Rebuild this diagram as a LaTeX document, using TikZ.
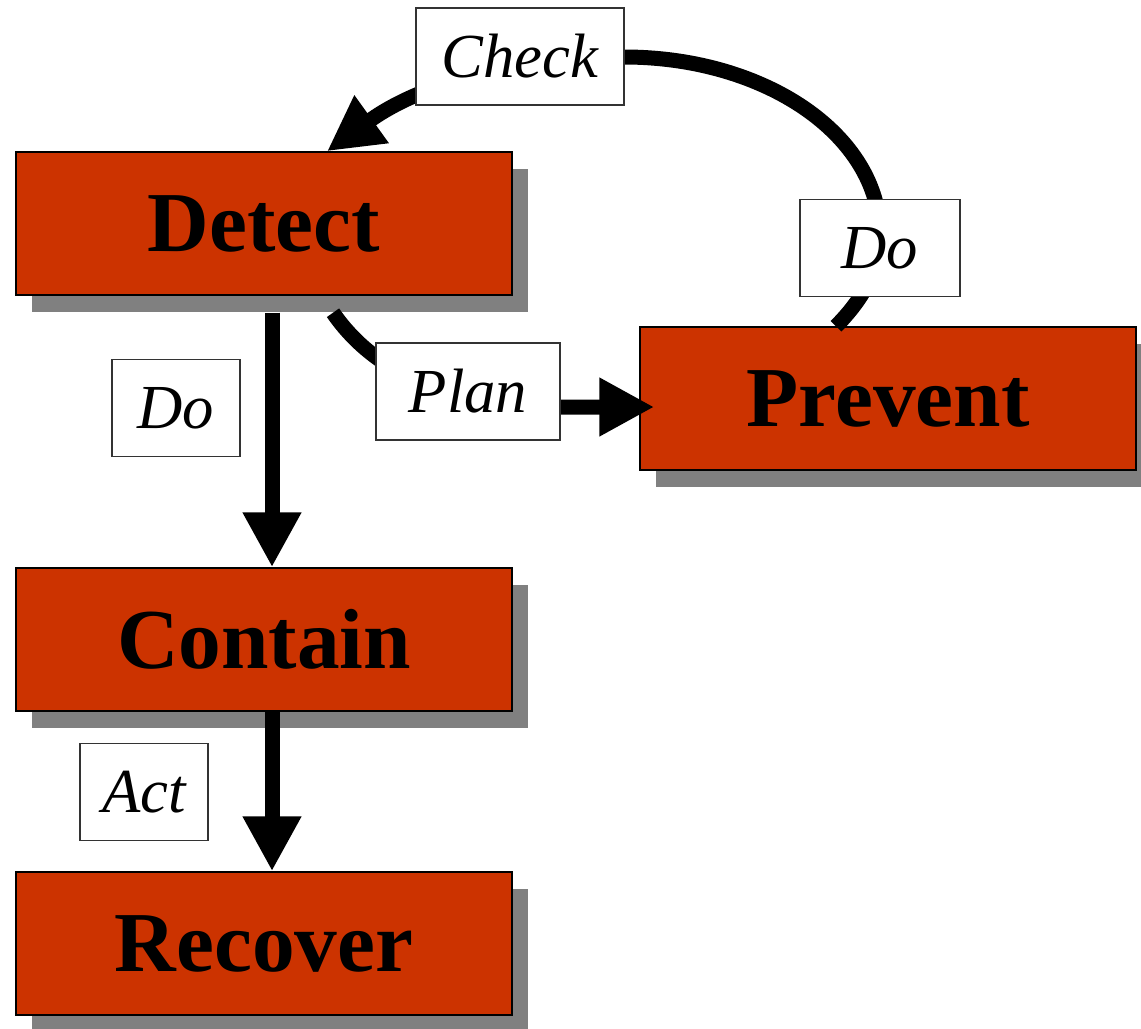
\documentclass[tikz,border=0pt]{standalone}
\usepackage{fontspec}
\setmainfont{Liberation Serif}
\usetikzlibrary{arrows.meta,shadows}
\definecolor{boxred}{HTML}{CC3300}
\definecolor{shadowgray}{HTML}{808080}
\definecolor{framegray}{HTML}{333333}
\begin{document}
\begin{tikzpicture}[x=0.75pt,y=-0.75pt,
  stage/.style={draw=black, line width=1.1pt, fill=boxred,
    minimum width=372pt, minimum height=107.25pt, inner sep=0pt,
    font=\fontsize{64}{70}\selectfont\bfseries,
    drop shadow={shadow xshift=12pt, shadow yshift=-12.5pt, fill=shadowgray, opacity=1}},
  tag/.style={draw=framegray, line width=1.1pt, fill=white, inner sep=0pt,
    minimum height=73pt, font=\fontsize{47}{52}\selectfont\itshape},
  flow/.style={line width=11.25pt, -{Triangle[length=41.25pt,width=41.25pt]}}]
\useasboundingbox (0,0) rectangle (1141,1028);

% stages
\node[stage] (detect)  at (264,223.5) {Detect};
\node[stage] (contain) at (264,639.5) {Contain};
\node[stage] (recover) at (264,943.5) {Recover};
\node[stage] (prevent) at (888,398.5) {Prevent};

% connectors
\draw[flow] ([xshift=6pt,yshift=-12.75pt]detect.south) -- ([xshift=6pt]contain.north);
\draw[flow] ([xshift=6pt]contain.south) -- ([xshift=6pt]recover.north);
\draw[flow] ([xshift=51.75pt,yshift=-12.75pt]detect.south)
  .. controls (360,352) and (420,407) .. (560,407)
  -- ([xshift=11.25pt,yshift=-6.375pt]prevent.west);
\draw[flow] ([xshift=-39pt]prevent.north)
  .. controls (862,300) and (880,270) .. (880,235)
  .. controls (880,135) and (765,57) .. (624,57)
  .. controls (560,57) and (440,70) .. ([xshift=47.25pt]detect.north);

% phase labels
\node[tag, minimum width=156pt] (check)  at (520,56.5)  {Check};
\node[tag, minimum width=120pt] (doloop) at (880,248)   {Do};
\node[tag, minimum width=138pt] (plan)   at (468,391.5) {Plan};
\node[tag, minimum width=96pt]  (dodown) at (176,408)   {Do};
\node[tag, minimum width=96pt]  (act)    at (144,792)   {Act};
\end{tikzpicture}
\end{document}
